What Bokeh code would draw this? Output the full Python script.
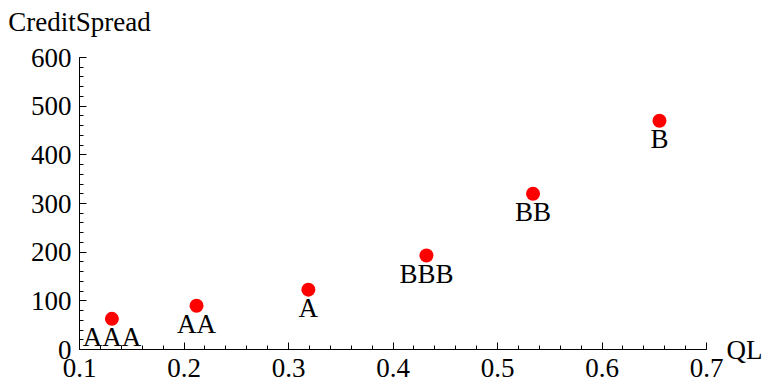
from bokeh.plotting import figure
from bokeh.models import Range1d, ColumnDataSource, LabelSet, FixedTicker, LinearAxis
from bokeh.embed import file_html
from bokeh.resources import INLINE

ratings = ["AAA", "AA", "A", "BBB", "BB", "B"]
ql = [0.131, 0.212, 0.319, 0.432, 0.534, 0.655]
spread = [63, 90, 123, 193, 320, 470]

x_major = [0.1, 0.2, 0.3, 0.4, 0.5, 0.6, 0.7]
x_minor = [round(0.1 + 0.02 * i, 2) for i in range(31)]
y_major = [0, 100, 200, 300, 400, 500, 600]
y_minor = [20 * i for i in range(31)]

x_title = "QL"
y_title = "CreditSpread"

FONT = "'Liberation Serif'"
FS = "27px"

src = ColumnDataSource(dict(x=ql, y=spread, name=ratings))

p = figure(width=765, height=383, output_backend="svg", toolbar_location=None,
           x_range=Range1d(0.1, 0.7), y_range=Range1d(0, 600),
           min_border_left=79, min_border_top=57, min_border_right=58,
           min_border_bottom=34)
p.outline_line_color = None
p.grid.visible = False

p.xaxis.ticker = FixedTicker(ticks=x_major, minor_ticks=x_minor)
p.yaxis.ticker = FixedTicker(ticks=y_major, minor_ticks=y_minor)
for ax in (p.xaxis[0], p.yaxis[0]):
    ax.major_tick_in = 7
    ax.major_tick_out = 0
    ax.minor_tick_in = 4
    ax.minor_tick_out = 0
    ax.axis_line_color = "black"
    ax.major_tick_line_color = "black"
    ax.minor_tick_line_color = "black"
    ax.major_label_text_font = FONT
    ax.major_label_text_font_size = FS
    ax.major_label_text_color = "black"
p.xaxis.major_label_standoff = 9
p.yaxis.major_label_standoff = 8

# axis titles placed Mathematica-style: at the end of each axis
def title_axis(ticks, text, standoff):
    a = LinearAxis(ticker=FixedTicker(ticks=ticks, minor_ticks=[]),
                   major_label_overrides={ticks[0]: text})
    a.axis_line_color = None
    a.major_tick_line_color = None
    a.minor_tick_line_color = None
    a.major_tick_in = 0
    a.major_tick_out = 0
    a.major_label_text_font = FONT
    a.major_label_text_font_size = FS
    a.major_label_text_color = "black"
    a.major_label_standoff = standoff
    return a

p.add_layout(title_axis([0.1], y_title, 21), "above")
p.add_layout(title_axis([0], x_title, 20), "right")

p.scatter("x", "y", source=src, size=14, color="red", line_color=None)
p.add_layout(LabelSet(x="x", y="y", text="name", source=src, text_font=FONT,
                      text_font_size=FS, text_align="center", text_baseline="top",
                      y_offset=-3, text_color="black"))

open("out.html", "w").write(file_html(p, INLINE))
